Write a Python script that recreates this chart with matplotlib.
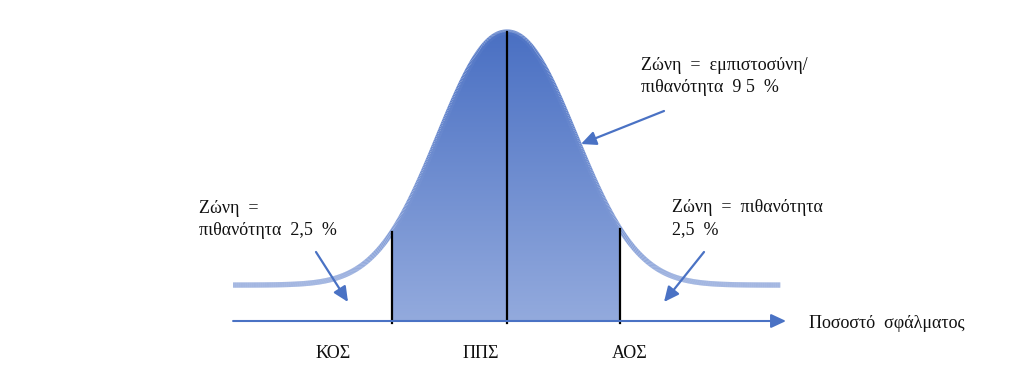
import numpy as np
import matplotlib.pyplot as plt
from matplotlib.collections import LineCollection
from matplotlib.colors import LinearSegmentedColormap
from matplotlib.patches import Polygon

# ---- data (x in units of 64 px-like steps, y relative height) ----
z_start, z_end = -4.28, 4.27
tail_level = 0.142
peak_height = 1.0
bell_width = 1.453
bell_power = 2.1
lower_bound, upper_bound = -1.80, 1.77
axis_end = 4.36
cat_labels = ["ΚΟΣ", "ΠΠΣ", "ΑΟΣ"]
cat_pos = [-2.72, -0.41, 1.92]
axis_title = "Ποσοστό  σφάλματος"
note_left = ["Ζώνη  =", "πιθανότητα  2,5  %"]
note_right = ["Ζώνη  =  πιθανότητα", "2,5  %"]
note_top = ["Ζώνη  =  εμπιστοσύνη/", "πιθανότητα  9 5  %"]

# ---- figure ----
W, H = 1024, 377
fig = plt.figure(figsize=(W / 100, H / 100), dpi=100)
ax = fig.add_axes([0, 0, 1, 1])
sx, sy = 64.0, 253.0
x0, y0 = 507.0, 321.0
ax.set_xlim(-x0 / sx, (W - x0) / sx)
ax.set_ylim(-(H - y0) / sy, y0 / sy)
ax.axis("off")

def bell(z):
    return tail_level + peak_height * np.exp(-(np.abs(z) / bell_width) ** bell_power)

cmap = LinearSegmentedColormap.from_list("b", ["#93aadd", "#4a70c3"])
serif = ["Liberation Serif", "DejaVu Serif"]
blue = "#4a72c4"
FS = 13

# gradient fill between bounds
zf = np.linspace(lower_bound, upper_bound, 300)
poly = np.vstack([np.column_stack([zf, bell(zf)]),
                  [[upper_bound, 0], [lower_bound, 0]]])
patch = Polygon(poly, closed=True, facecolor="none", edgecolor="none")
ax.add_patch(patch)
grad = np.linspace(0, 1, 256).reshape(-1, 1)
im = ax.imshow(grad, cmap=cmap, origin="lower", aspect="auto",
               extent=[lower_bound, upper_bound, 0, tail_level + peak_height],
               zorder=1)
im.set_clip_path(patch)

# curve line coloured by height
zc = np.linspace(z_start, z_end, 800)
yc = bell(zc)
pts = np.column_stack([zc, yc]).reshape(-1, 1, 2)
segs = np.concatenate([pts[:-1], pts[1:]], axis=1)
lc = LineCollection(segs, cmap=cmap, linewidths=3.8, capstyle="butt", zorder=2)
lc.set_array(0.1 + (yc[:-1] - tail_level) / peak_height * 0.8)
lc.set_clim(0, 1)
ax.add_collection(lc)

# vertical lines
for zv in [lower_bound, 0.0, upper_bound]:
    ax.plot([zv, zv], [-0.008, bell(zv)], color="black", lw=1.6, zorder=3)

style = "-|>,head_length=0.9,head_width=0.42"
# horizontal axis with arrow
ax.annotate("", xy=(axis_end, 0), xytext=(z_start, 0),
            arrowprops=dict(arrowstyle=style, color=blue, lw=1.5,
                            shrinkA=0, shrinkB=0, mutation_scale=10), zorder=3)

# annotation arrows
def arrow(p_from, p_to):
    ax.annotate("", xy=((p_to[0] - x0) / sx, (y0 - p_to[1]) / sy),
                xytext=((p_from[0] - x0) / sx, (y0 - p_from[1]) / sy),
                arrowprops=dict(arrowstyle=style, color=blue, lw=1.6,
                                shrinkA=0, shrinkB=0, mutation_scale=10), zorder=4)

arrow((316, 252), (348, 302))
arrow((704, 252), (664, 302))
arrow((664, 111), (581, 144))

# texts
def txt(px, py, s, **kw):
    ax.text((px - x0) / sx, (y0 - py) / sy, s, fontsize=FS, family=serif,
            va="baseline", color="#111111", **kw)

txt(199, 213, note_left[0]); txt(199, 235, note_left[1])
txt(672, 212, note_right[0]); txt(672, 234, note_right[1])
txt(641, 70, note_top[0]); txt(641, 92, note_top[1])
txt(809, 328, axis_title)
for lab, p in zip(cat_labels, cat_pos):
    ax.text(p, (y0 - 358) / sy, lab, fontsize=FS, family=serif,
            ha="center", va="baseline", color="#111111")

fig.savefig("out.png", dpi=100)
